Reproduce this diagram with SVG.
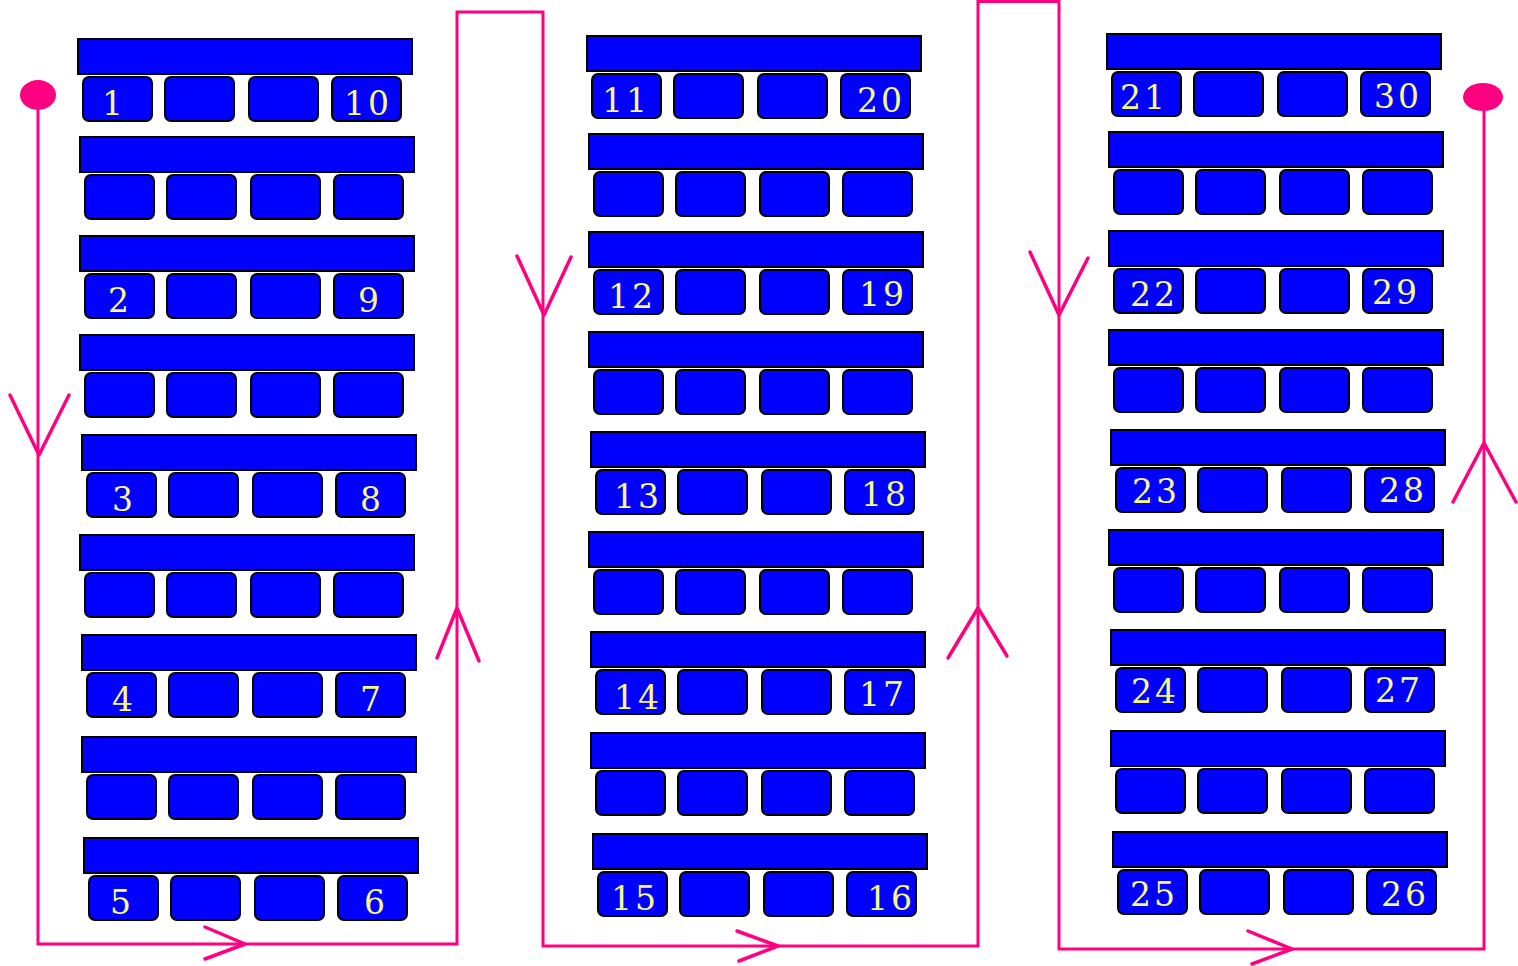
<svg xmlns="http://www.w3.org/2000/svg" width="1518" height="966" viewBox="0 0 1518 966">
<style>
.bar{fill:#0000FF;stroke:#000;stroke-width:2}
.cell{fill:#0000FF;stroke:#000;stroke-width:2}
.lbl{font-family:"DejaVu Serif","Liberation Serif",serif;font-size:33px;fill:#F8F880;text-anchor:middle;letter-spacing:3px}
.flow{fill:none;stroke:#FF0080;stroke-width:3;stroke-linejoin:miter}
.arr{fill:none;stroke:#FF0080;stroke-width:3.5;stroke-linejoin:round;stroke-linecap:round}
.dot{fill:#FF0080}
</style>
<defs>
<g id="row">
<rect class="bar" x="0" y="0" width="334" height="35"/>
<rect class="cell" x="5" y="38" width="69" height="44" rx="6"/>
<rect class="cell" x="87" y="38" width="69" height="44" rx="6"/>
<rect class="cell" x="171" y="38" width="69" height="44" rx="6"/>
<rect class="cell" x="254" y="38" width="69" height="44" rx="6"/>
</g>
</defs>
<g id="connectors">
<polyline class="flow" points="38,95 38,944 457,944 457,12 543,12 543,946 978,946 978,1.5 1059,1.5 1059,949 1484,949 1484,97"/>
<polyline class="arr" points="10,395 39,455 69,395"/>
<polyline class="arr" points="437,658 457,608 479,661"/>
<polyline class="arr" points="517,256 544,315 571,257"/>
<polyline class="arr" points="948,658 978,608 1007,656"/>
<polyline class="arr" points="1030,252 1059,315 1088,258"/>
<polyline class="arr" points="1453,502 1484,443 1516,502"/>
<polyline class="arr" points="205,927 245,944 205,959"/>
<polyline class="arr" points="737,931 778,946 739,961"/>
<polyline class="arr" points="1248,931 1292,949 1252,964"/>
<ellipse class="dot" cx="38" cy="95" rx="18" ry="15"/>
<ellipse class="dot" cx="1483" cy="97" rx="20" ry="14"/>
</g>
<g id="row-1-10" transform="translate(78,39)"><use href="#row"/><text class="lbl" x="36" y="76">1</text><text class="lbl" x="290" y="76">10</text></g>
<g id="row-c1-2" transform="translate(80,137)"><use href="#row"/></g>
<g id="row-2-9" transform="translate(80,236)"><use href="#row"/><text class="lbl" x="40" y="76">2</text><text class="lbl" x="290" y="76">9</text></g>
<g id="row-c1-4" transform="translate(80,335)"><use href="#row"/></g>
<g id="row-3-8" transform="translate(82,435)"><use href="#row"/><text class="lbl" x="42" y="76">3</text><text class="lbl" x="290" y="76">8</text></g>
<g id="row-c1-6" transform="translate(80,535)"><use href="#row"/></g>
<g id="row-4-7" transform="translate(82,635)"><use href="#row"/><text class="lbl" x="42" y="76">4</text><text class="lbl" x="290" y="76">7</text></g>
<g id="row-c1-8" transform="translate(82,737)"><use href="#row"/></g>
<g id="row-5-6" transform="translate(84,838)"><use href="#row"/><text class="lbl" x="38" y="76">5</text><text class="lbl" x="292" y="76">6</text></g>

<g id="row-11-20" transform="translate(587,36)"><use href="#row"/><text class="lbl" x="39" y="76">11</text><text class="lbl" x="294" y="76">20</text></g>
<g id="row-c2-2" transform="translate(589,134)"><use href="#row"/></g>
<g id="row-12-19" transform="translate(589,232)"><use href="#row"/><text class="lbl" x="43" y="76">12</text><text class="lbl" x="294" y="74">19</text></g>
<g id="row-c2-4" transform="translate(589,332)"><use href="#row"/></g>
<g id="row-13-18" transform="translate(591,432)"><use href="#row"/><text class="lbl" x="47" y="76">13</text><text class="lbl" x="294" y="74">18</text></g>
<g id="row-c2-6" transform="translate(589,532)"><use href="#row"/></g>
<g id="row-14-17" transform="translate(591,632)"><use href="#row"/><text class="lbl" x="47" y="77">14</text><text class="lbl" x="292" y="74">17</text></g>
<g id="row-c2-8" transform="translate(591,733)"><use href="#row"/></g>
<g id="row-15-16" transform="translate(593,834)"><use href="#row"/><text class="lbl" x="42" y="76">15</text><text class="lbl" x="298" y="76">16</text></g>

<g id="row-21-30" transform="translate(1107,34)"><use href="#row"/><text class="lbl" x="37" y="75">21</text><text class="lbl" x="291" y="74">30</text></g>
<g id="row-c3-2" transform="translate(1109,132)"><use href="#row"/></g>
<g id="row-22-29" transform="translate(1109,231)"><use href="#row"/><text class="lbl" x="45" y="75">22</text><text class="lbl" x="287" y="73">29</text></g>
<g id="row-c3-4" transform="translate(1109,330)"><use href="#row"/></g>
<g id="row-23-28" transform="translate(1111,430)"><use href="#row"/><text class="lbl" x="45" y="73">23</text><text class="lbl" x="292" y="72">28</text></g>
<g id="row-c3-6" transform="translate(1109,530)"><use href="#row"/></g>
<g id="row-24-27" transform="translate(1111,630)"><use href="#row"/><text class="lbl" x="44" y="73">24</text><text class="lbl" x="288" y="72">27</text></g>
<g id="row-c3-8" transform="translate(1111,731)"><use href="#row"/></g>
<g id="row-25-26" transform="translate(1113,832)"><use href="#row"/><text class="lbl" x="41" y="74">25</text><text class="lbl" x="292" y="74">26</text></g>
</svg>
